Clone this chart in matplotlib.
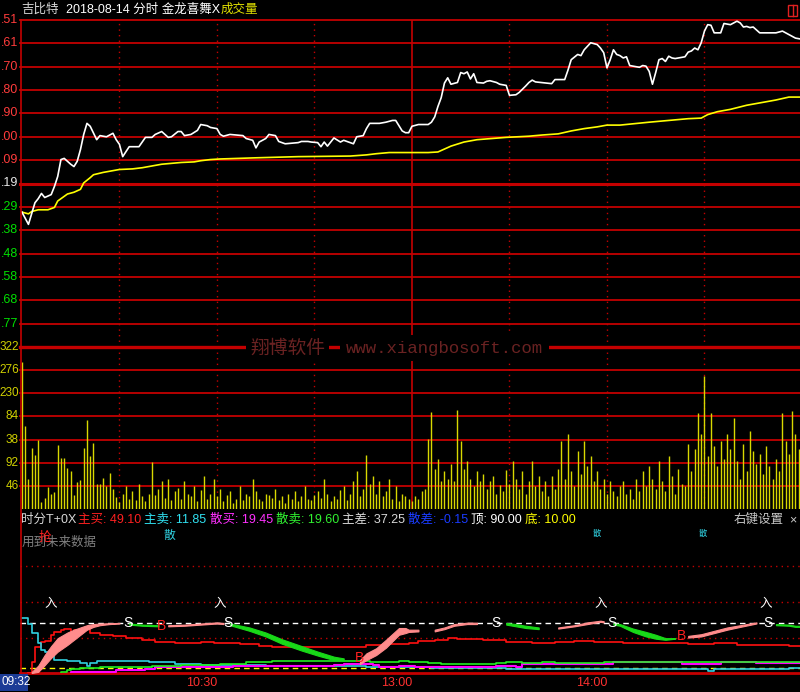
import matplotlib
matplotlib.use('Agg')
import matplotlib.pyplot as plt
from matplotlib.transforms import blended_transform_factory
from matplotlib.patches import Rectangle

plt.rcParams['font.family'] = ['Liberation Sans', 'Noto Sans CJK SC']

# ---- price pane (percent change vs previous close, 0.4% per grid) ----
price_min = [0, 2, 4, 5, 6, 7, 9, 10, 11, 12, 13, 15, 16, 17, 18, 19, 20, 21, 23, 24,
             26, 28, 29, 30, 31, 33, 36, 38, 40, 41, 43, 45, 46, 48, 49, 50, 52, 54, 55, 57,
             58, 60, 61, 62, 64, 68, 69, 71, 72, 73, 75, 76, 78, 79, 81, 85, 86, 88, 89, 91,
             92, 93, 94, 96, 98, 99, 101, 102, 103, 105, 106, 107, 110, 112, 114, 115, 117, 118, 119, 120,
             122, 125, 126, 127, 128, 129, 130, 131, 132, 134, 135, 136, 137, 138, 139, 140, 142, 143, 144, 146,
             147, 149, 150, 152, 153, 155, 156, 157, 158, 163, 164, 167, 168, 169, 171, 172, 173, 174, 175, 177,
             178, 179, 180, 181, 182, 183, 184, 185, 186, 187, 190, 191, 192, 193, 194, 195, 196, 197, 198, 199,
             200, 201, 204, 205, 206, 207, 208, 209, 210, 211, 212, 213, 215, 216, 218, 219, 220, 221, 222, 223,
             224, 225, 227, 232, 234, 235, 237, 238, 240]
price_pct = [-0.49, -0.70, -0.33, -0.26, -0.17, -0.24, -0.19, -0.05, 0.12, 0.41, 0.43, 0.33, 0.29, 0.38, 0.58, 0.84, 1.03, 0.98, 0.75, 0.82,
             0.80, 0.86, 0.75, 0.67, 0.46, 0.63, 0.63, 0.79, 0.79, 0.84, 0.89, 0.79, 0.80, 0.89, 0.89, 0.82, 0.84, 0.91, 1.01, 0.99,
             0.96, 0.94, 0.84, 0.81, 0.84, 0.82, 0.77, 0.74, 0.61, 0.71, 0.77, 0.84, 0.82, 0.72, 0.68, 0.70, 0.72, 0.72, 0.71, 0.70,
             0.63, 0.71, 0.64, 0.78, 0.71, 0.74, 0.70, 0.68, 0.80, 0.82, 0.94, 1.03, 1.03, 1.05, 1.08, 1.08, 0.90, 0.87, 0.87, 0.98,
             1.01, 1.01, 1.05, 1.14, 1.32, 1.47, 1.72, 1.81, 1.70, 1.73, 1.90, 1.88, 1.91, 1.79, 1.88, 1.73, 1.72, 1.75, 1.76, 1.73,
             1.70, 1.68, 1.51, 1.52, 1.56, 1.67, 1.73, 1.77, 1.74, 1.71, 1.78, 1.78, 1.94, 2.12, 2.21, 2.19, 2.29, 2.35, 2.41, 2.38,
             2.32, 2.24, 1.98, 2.12, 2.29, 2.21, 2.19, 2.15, 2.17, 2.02, 1.99, 2.02, 2.01, 1.92, 1.70, 1.90, 2.12, 2.14, 2.09, 2.18,
             2.15, 2.14, 2.17, 2.25, 2.27, 2.32, 2.29, 2.41, 2.61, 2.72, 2.71, 2.58, 2.58, 2.74, 2.72, 2.75, 2.78, 2.75, 2.68, 2.69,
             2.67, 2.68, 2.58, 2.58, 2.61, 2.58, 2.52, 2.49, 2.47]
avg_min = [0, 2, 3, 5, 8, 10, 11, 13, 14, 16, 18, 19, 21, 22, 25, 28, 30, 34, 37, 40,
           43, 49, 53, 55, 58, 61, 72, 85, 101, 106, 109, 113, 125, 128, 130, 132, 136, 140, 149, 156,
           160, 165, 169, 173, 177, 180, 184, 193, 205, 209, 211, 214, 218, 223, 227, 232, 236, 240]
avg_pct = [-0.49, -0.52, -0.48, -0.45, -0.45, -0.41, -0.30, -0.22, -0.18, -0.15, -0.10, 0.01, 0.10, 0.15, 0.19, 0.22, 0.24, 0.25, 0.27, 0.30,
           0.33, 0.36, 0.37, 0.39, 0.41, 0.42, 0.44, 0.46, 0.47, 0.49, 0.51, 0.53, 0.53, 0.54, 0.59, 0.64, 0.71, 0.75, 0.79, 0.81,
           0.83, 0.85, 0.90, 0.94, 0.97, 1.00, 1.00, 1.05, 1.11, 1.12, 1.18, 1.23, 1.27, 1.34, 1.38, 1.43, 1.48, 1.48]
price_labels = ['.51', '.61', '.70', '.80', '.90', '.00', '.09', '.19', '.29', '.38', '.48', '.58', '.68', '.77']

# ---- volume pane (one bar per minute) ----
volume = [293, 165, 59, 121, 107, 137, 14, 22, 44, 30, 34, 127, 101, 101, 81, 75, 28, 54, 58, 121,
          176, 105, 131, 50, 50, 61, 46, 71, 40, 24, 14, 30, 45, 20, 35, 18, 50, 25, 15, 30,
          93, 28, 40, 55, 22, 60, 18, 35, 42, 20, 55, 30, 25, 45, 15, 38, 65, 20, 30, 60,
          25, 40, 15, 28, 35, 12, 20, 45, 18, 30, 25, 60, 35, 20, 15, 30, 28, 22, 40, 18,
          25, 12, 30, 20, 35, 15, 25, 45, 20, 18, 28, 35, 22, 60, 30, 15, 25, 20, 38, 45,
          18, 30, 55, 75, 25, 40, 107, 50, 65, 30, 55, 25, 35, 60, 20, 45, 15, 30, 25, 20,
          15, 25, 20, 35, 40, 140, 192, 80, 100, 55, 75, 60, 90, 55, 196, 135, 80, 95, 60, 45,
          75, 55, 70, 40, 55, 65, 30, 48, 35, 78, 50, 95, 60, 40, 75, 30, 55, 95, 45, 65,
          35, 55, 25, 65, 40, 80, 135, 60, 150, 75, 45, 115, 70, 135, 85, 105, 55, 75, 40, 60,
          30, 55, 35, 25, 45, 55, 30, 40, 20, 60, 35, 75, 45, 85, 60, 40, 95, 55, 35, 105,
          65, 30, 80, 50, 45, 130, 75, 120, 190, 150, 265, 105, 190, 125, 85, 135, 100, 150, 120, 180,
          95, 60, 130, 75, 155, 115, 90, 110, 70, 125, 85, 60, 100, 75, 190, 135, 110, 195, 150, 120]
vol_ticks = [46, 92, 138, 184, 230, 276, 322]
vol_labels = ['46', '92', '38', '84', '230', '276', '322']

# ---- indicator pane ----
zmai_min = [2, 3, 4, 6, 7, 9, 10, 12, 13, 15, 16, 19, 21, 24, 28, 32, 37, 41, 47, 51,
            55, 59, 63, 67, 73, 77, 86, 96, 102, 106, 111, 116, 119, 122, 127, 131, 134, 142, 149, 157,
            164, 170, 176, 185, 194, 205, 213, 220, 229, 236, 240]
zmai_val = [1, 21, 48, 57, 58, 69, 74, 78, 79, 74, 78, 79, 73, 69, 66, 63, 60, 57, 55, 55,
            57, 55, 54, 52, 49, 48, 48, 48, 48, 51, 53, 53, 54, 58, 60, 63, 61, 60, 57, 54,
            56, 58, 56, 54, 54, 53, 54, 51, 51, 49, 49]
zmai_sell_min = [0, 1, 2, 3, 5, 6, 7, 9, 10, 14, 18, 20, 21, 23, 29, 39, 47, 55, 65, 75,
                 106, 116, 126, 149, 209, 211, 213, 236, 240]
zmai_sell_val = [98, 98, 89, 72, 54, 42, 39, 33, 25, 23, 18, 14, 18, 22, 22, 21, 17, 15, 15, 14,
                 12, 12, 10, 8, 8, 5, 9, 10, 12]
smai_min = [7, 12, 15, 22, 29, 36, 38, 41, 55, 65, 96, 99, 108, 110, 116, 120, 121, 134, 146, 152,
            154, 175, 182, 203, 215, 226, 240]
smai_val = [0, 0, 2, 3, 6, 6, 8, 11, 12, 14, 15, 17, 15, 11, 14, 14, 12, 12, 14, 12,
            17, 17, 20, 17, 20, 18, 19]
smai_sell_min = [1, 7, 12, 14, 15, 18, 24, 30, 40, 49, 57, 61, 69, 77, 101, 107, 116, 119, 125, 129,
                 146, 149, 154, 160, 164, 179, 237, 240]
smai_sell_val = [0, 0, 3, 6, 9, 10, 11, 12, 14, 15, 15, 17, 21, 23, 23, 21, 22, 21, 18, 17,
                 18, 20, 18, 20, 18, 20, 20, 20]

# band segments: (minute, low, high)
up1 = [(3, 1, 3), (5, 3, 14), (7, 15, 33), (9, 28, 49), (11, 39, 63), (14, 51, 73), (16, 60, 78),
       (18, 69, 82), (20, 78, 86), (22, 83, 88), (24, 86, 89), (27, 88, 89.5), (30, 89, 90)]
up2 = [(45, 84, 86), (50, 85, 87), (55, 87, 89), (60, 89, 91), (62, 88, 90)]
up3 = [(104, 17, 24), (106, 24, 36), (109, 33, 45), (112, 46, 60), (116, 69, 81), (118, 72, 81),
       (119, 74, 78), (122, 75, 78)]
up4 = [(127, 75, 78), (130, 79, 82), (133, 85, 88), (137, 88, 90.5), (140, 88, 90.5)]
up5 = [(165, 80, 82), (170, 84, 86), (174, 88, 91), (178, 92, 94), (179, 91, 93)]
up6 = [(205, 64, 67), (209, 66, 70), (213, 72, 76), (217, 78, 82), (221, 83, 86), (226, 89, 91)]
dn1 = [(33, 87, 89), (37, 85, 87), (42, 84, 86)]
dn2 = [(64, 86, 89), (70, 76, 82), (75, 66, 73), (80, 53, 61), (86, 41, 49), (91, 32, 39),
       (96, 24, 30), (99, 23, 27)]
dn3 = [(149, 87, 90), (152, 84, 88), (155, 81, 85), (159, 79, 82)]
dn4 = [(182, 87, 89), (184, 85, 88), (188, 74, 80), (192, 66, 74), (195, 62, 69), (198, 60, 63),
       (201, 62, 63)]
dn5 = [(232, 86, 88), (236, 85, 87), (238, 83, 85), (240, 83, 85)]

sell_marks = [(32.5, 90), (63.5, 90), (146, 90), (181.5, 90), (229.5, 90)]
buy_marks = [(43, 85), (104, 27), (203, 66)]
enter_marks = [(9, 124), (61, 124), (178, 124), (229, 124)]

RED = '#c40000'
W, H = 800, 692
X0, X1 = -0.6, 239.4

fig = plt.figure(figsize=(8, 6.92), dpi=100, facecolor='black')


def pane(top, bottom):
    ax = fig.add_axes([20 / W, 1 - bottom / H, 780 / W, (bottom - top) / H])
    ax.set_facecolor('black')
    for s in ax.spines.values():
        s.set_visible(False)
    ax.set_xticks([])
    ax.set_yticks([])
    ax.set_xlim(X0, X1)
    return ax


def vgrid(ax):
    for m in [30, 60, 90, 150, 180, 210]:
        ax.axvline(m, color=RED, ls=(0, (1, 3)), lw=1)
    ax.axvline(120, color=RED, lw=1.2)


# price pane
axp = pane(20, 347)
axp.set_ylim(-2.8, 2.8)
vgrid(axp)
tr = blended_transform_factory(fig.transFigure, axp.transData)
for i, lab in enumerate(price_labels):
    lvl = 7 - i
    axp.axhline(lvl * 0.4, color=RED, lw=2.2 if lvl == 0 else 1.3, clip_on=False)
    col = '#ff3c3c' if lvl > 0 else ('#e8e8e8' if lvl == 0 else '#00e000')
    axp.text(18 / W, lvl * 0.4, lab, transform=tr, ha='right', va='center',
             color=col, fontsize=9, clip_on=False)
axp.plot(avg_min, avg_pct, color='#ffff00', lw=1.2)
axp.plot(price_min, price_pct, color='white', lw=1.2)

# volume pane
axv = pane(347, 509)
axv.set_ylim(0, 322)
vgrid(axv)
trv = blended_transform_factory(fig.transFigure, axv.transData)
for v, lab in zip(vol_ticks, vol_labels):
    axv.axhline(v, color=RED, lw=2.4 if v == 322 else 1.3, clip_on=False)
    axv.text(19 / W, v, lab, transform=trv, ha='right', va='center',
             color='#d0d000', fontsize=8.5, clip_on=False)
axv.vlines(range(len(volume)), 0, volume, color='#d8d800', lw=1)

# watermark over the separator line
fig.text(250 / W, 1 - 348 / H, '翔博软件', color='#6a2222', fontsize=13.5,
         family='Noto Sans CJK SC', va='center', ha='left',
         bbox=dict(facecolor='black', edgecolor='none', pad=3), zorder=10)
fig.text(346 / W, 1 - 348 / H, 'www.xiangbosoft.com', color='#6a2222', fontsize=12.5,
         family='Liberation Mono', va='center', ha='left',
         bbox=dict(facecolor='black', edgecolor='none', pad=4), zorder=10)

# indicator pane
axi = pane(509, 673)
axi.set_ylim(1, 292.6)
for lvl in [63, 127, 192]:
    axi.axhline(lvl, color=RED, ls=(0, (1, 3)), lw=1)
axi.axhline(90, color='white', ls=(0, (4, 3)), lw=1)
axi.axhline(10, color='#ffff00', ls=(0, (4, 3)), lw=1)
axi.axhline(1, color=RED, lw=2, clip_on=False)

for seg in [up1, up2, up3, up4, up5, up6]:
    m, lo, hi = zip(*seg)
    axi.fill_between(m, lo, hi, color='#ff8c8c', lw=0.8, edgecolor='#ff8c8c', zorder=3)
for seg in [dn1, dn2, dn3, dn4, dn5]:
    m, lo, hi = zip(*seg)
    axi.fill_between(m, lo, hi, color='#18d818', lw=0.8, edgecolor='#18d818', zorder=3)

axi.plot(zmai_min, zmai_val, color='#ff1010', lw=1.2, drawstyle='steps-post', zorder=2)
axi.plot(zmai_sell_min, zmai_sell_val, color='#30d0e0', lw=1.2, drawstyle='steps-post', zorder=2)
axi.plot(smai_min, smai_val, color='#ff00ff', lw=1.5, drawstyle='steps-post', zorder=2)
axi.plot(smai_sell_min, smai_sell_val, color='#20f020', lw=1.2, drawstyle='steps-post', zorder=2)

for m, v in sell_marks:
    axi.text(m, v, 'S', color='white', fontsize=10, ha='center', va='center', zorder=5)
for m, v in buy_marks:
    axi.text(m, v, 'B', color='#ff2020', fontsize=10, ha='center', va='center', zorder=5)
for m, v in enter_marks:
    axi.text(m, v, '入', color='white', fontsize=9, ha='center', va='center',
             family='Noto Sans CJK SC', zorder=5)

tri = blended_transform_factory(axi.transData, fig.transFigure)
axi.text(45.5, 1 - 535 / H, '散', transform=tri, color='#30d0e0', fontsize=8.5,
         ha='center', va='center', family='Noto Sans CJK SC')
for m in [177, 209.5]:
    axi.text(m, 1 - 533 / H, '散', transform=tri, color='#30d0e0', fontsize=6,
             ha='center', va='center', family='Noto Sans CJK SC')

# left border
fig.add_artist(plt.Line2D([20.5 / W, 20.5 / W], [1 - 673 / H, 1 - 20 / H], color=RED, lw=1.2))


# top header
def ftext(x, y, s, color, size=9, **kw):
    fig.text(x / W, 1 - y / H, s, color=color, fontsize=size, va='center', ha='left', **kw)


ftext(21, 10, '吉比特', '#d8d8d8')
ftext(66, 10, '2018-08-14 分时 金龙喜舞X', 'white')
ftext(221, 10, '成交量', '#e0e000')
fig.add_artist(Rectangle((788 / W, 1 - 16 / H), 9 / W, 11 / H, transform=fig.transFigure,
                         fill=False, edgecolor='#e02020', lw=1))
fig.add_artist(plt.Line2D([792.5 / W, 792.5 / W], [1 - 16 / H, 1 - 5 / H], color='#e02020', lw=1))

# indicator header
ftext(21, 520, '时分T+0X', '#d8d8d8')
ftext(78, 520, '主买: 49.10', '#ff2020')
ftext(144, 520, '主卖: 11.85', '#30e0f0')
ftext(210, 520, '散买: 19.45', '#ff30ff')
ftext(276, 520, '散卖: 19.60', '#30f030')
ftext(342, 520, '主差: 37.25', '#d8d8d8')
ftext(408, 520, '散差: -0.15', '#1a3cff')
ftext(471, 520, '顶: 90.00', 'white')
ftext(525, 520, '底: 10.00', '#ffff00')
ftext(734, 520, '右键设置', '#c8c8c8')
ftext(789, 520, '×', '#c8c8c8')
ftext(22, 543, '用到未来数据', '#808080')
ftext(39, 538, '抢', '#ff2020')

# time axis
fig.add_artist(Rectangle((0, 1 - 691 / H), 28 / W, 17 / H, transform=fig.transFigure,
                         facecolor='#1c3c96', edgecolor='none'))
ftext(1, 682, '09:32', 'white', size=8.5)
trt = blended_transform_factory(axi.transData, fig.transFigure)
for m, lab in [(60, '10:30'), (120, '13:00'), (180, '14:00')]:
    axi.text(m, 1 - 683 / H, lab, transform=trt, color='#ff3030', fontsize=9,
             ha='right', va='center', clip_on=False)

fig.savefig('out.png', dpi=100, facecolor='black')
